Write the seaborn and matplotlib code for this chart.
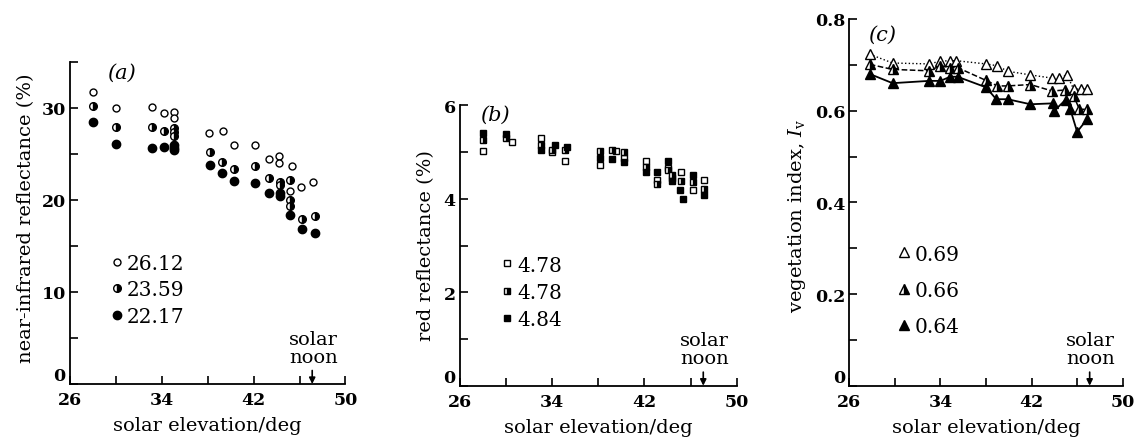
import matplotlib
matplotlib.use('Agg')
import matplotlib.pyplot as plt
import seaborn as sns
from matplotlib.lines import Line2D

sns.set_theme(style='ticks')
plt.rcParams['font.family'] = ['DejaVu Serif']
plt.rcParams['mathtext.fontset'] = 'dejavuserif'

# ---------------- data ----------------
# panel (a): near-infrared reflectance (%)
a_x_open = [28.0, 30.0, 33.1, 34.2, 35.1, 35.1, 38.1, 39.3, 40.3, 42.1, 43.3, 44.2, 44.2, 45.3, 45.2, 46.1, 47.2]
a_open = [31.7, 30.0, 30.1, 29.4, 29.6, 28.9, 27.3, 27.5, 26.0, 26.0, 24.5, 24.8, 24.0, 23.7, 21.0, 21.4, 22.0]
a_x_half = [28.0, 30.0, 33.1, 34.2, 35.1, 35.1, 35.1, 38.2, 39.2, 40.3, 42.1, 43.3, 44.3, 44.3, 45.2, 45.2, 45.2, 46.2, 47.3]
a_half = [30.2, 27.9, 27.9, 27.5, 27.8, 27.4, 27.0, 25.2, 24.1, 23.4, 23.7, 22.4, 22.0, 21.6, 22.2, 20.0, 19.4, 17.9, 18.3]
a_x_fill = [28.0, 30.0, 33.1, 34.2, 35.1, 35.1, 35.1, 38.2, 39.2, 40.3, 42.1, 43.3, 44.3, 44.3, 45.2, 46.2, 47.3]
a_fill = [28.5, 26.1, 25.7, 25.8, 26.0, 25.7, 25.4, 23.8, 22.9, 22.1, 21.8, 20.8, 20.8, 20.4, 18.4, 16.8, 16.4]
a_labels = ['26.12', '23.59', '22.17']

# panel (b): red reflectance (%)
b_x_open = [28.0, 30.5, 33.0, 34.0, 35.1, 38.1, 39.5, 40.25, 42.1, 43.1, 44.0, 44.4, 45.2, 46.2, 47.2]
b_open = [5.03, 5.22, 5.30, 5.00, 4.82, 4.73, 5.03, 4.88, 4.80, 4.40, 4.66, 4.45, 4.57, 4.20, 4.40]
b_x_half = [28.0, 30.0, 33.0, 34.0, 35.1, 38.1, 39.2, 40.25, 42.1, 43.1, 44.0, 44.4, 45.2, 46.2, 47.2]
b_half = [5.25, 5.30, 5.15, 5.05, 5.05, 5.03, 5.05, 5.00, 4.68, 4.32, 4.62, 4.50, 4.39, 4.35, 4.22]
b_x_fill = [28.0, 30.0, 33.0, 34.2, 35.3, 38.1, 39.2, 40.25, 42.1, 43.1, 44.0, 44.4, 45.1, 45.3, 46.2, 47.2]
b_fill = [5.40, 5.38, 5.05, 5.15, 5.10, 4.88, 4.85, 4.78, 4.58, 4.57, 4.80, 4.38, 4.18, 4.00, 4.50, 4.08]
b_labels = ['4.78', '4.78', '4.84']

# panel (c): vegetation index
c_x_open = [27.8, 29.8, 33.0, 34.0, 34.85, 35.4, 38.0, 39.0, 39.9, 41.9, 43.8, 44.4, 45.1, 45.7, 46.3, 46.9]
c_open = [0.723, 0.704, 0.702, 0.708, 0.709, 0.709, 0.702, 0.698, 0.686, 0.678, 0.671, 0.671, 0.678, 0.647, 0.647, 0.647]
c_x_half = [27.8, 29.8, 33.0, 34.0, 34.85, 35.5, 38.0, 39.0, 39.9, 41.9, 43.8, 44.9, 45.7, 46.2, 46.9]
c_half = [0.701, 0.690, 0.687, 0.698, 0.694, 0.694, 0.666, 0.654, 0.654, 0.657, 0.643, 0.645, 0.632, 0.603, 0.603]
c_x_fill = [27.8, 29.8, 33.0, 34.0, 34.85, 35.5, 38.0, 38.9, 39.9, 41.9, 43.9, 44.0, 45.0, 45.4, 46.0, 46.9]
c_fill = [0.680, 0.660, 0.665, 0.665, 0.674, 0.674, 0.651, 0.625, 0.625, 0.614, 0.616, 0.600, 0.624, 0.603, 0.554, 0.582]
c_labels = ['0.69', '0.66', '0.64']

x_major = [26, 34, 42, 50]
x_minor = [30, 38, 46]

# ---------------- figure ----------------
fig = plt.figure(figsize=(11.38, 4.39), dpi=100)
axA = fig.add_axes([70 / 1138, 54 / 439, 275.5 / 1138, 365 / 439])
axB = fig.add_axes([460 / 1138, 52.3 / 439, 276.7 / 1138, 366.7 / 439])
axC = fig.add_axes([849.3 / 1138, 52.3 / 439, 273.4 / 1138, 366.7 / 439])

TICK_FS = 12.5
LAB_FS = 14
LEG_FS = 14.5


def style(ax, spine_top, ylim_top, majors, major_labels, minors):
    ax.set_xlim(26, 50)
    ax.set_ylim(0, ylim_top)
    ax.spines['top'].set_visible(False)
    ax.spines['right'].set_visible(False)
    ax.spines['left'].set_bounds(0, spine_top)
    ax.spines['bottom'].set_bounds(26, 50)
    for s in ('left', 'bottom'):
        ax.spines[s].set_color('black')
        ax.spines[s].set_linewidth(1.3)
    ax.set_xticks(x_major)
    ax.set_xticklabels([str(v) for v in x_major])
    ax.set_xticks(x_minor, minor=True)
    ax.set_yticks(majors)
    ax.set_yticklabels(major_labels)
    ax.set_yticks(minors, minor=True)
    ax.tick_params(which='both', direction='in', length=6, width=1.2, color='black',
                   bottom=True, left=True, top=False, right=False)
    ax.tick_params(axis='x', which='major', labelsize=TICK_FS, pad=5, labelcolor='black')
    ax.tick_params(axis='y', which='major', labelsize=TICK_FS, pad=3, labelcolor='black')
    for lab in ax.get_xticklabels() + ax.get_yticklabels():
        lab.set_fontweight('bold')
    # the "0" on the y axis sits just above the corner, as in the reference
    ax.get_yticklabels()[0].set_verticalalignment('bottom')
    ax.set_xlabel('solar elevation/deg', fontsize=LAB_FS, color='black')
    ax.xaxis.set_label_coords(0.5, -0.087)
    # solar noon annotation
    ax.text(47.2, 0.05, 'solar\nnoon', transform=ax.get_xaxis_transform(),
            ha='center', va='bottom', fontsize=LAB_FS, linespacing=1.0, color='black')
    ax.annotate('', xy=(47.1, 0.0), xytext=(47.1, 0.037),
                xycoords=ax.get_xaxis_transform(), textcoords=ax.get_xaxis_transform(),
                arrowprops=dict(arrowstyle='-|>', color='black', lw=1.2,
                                mutation_scale=9, shrinkA=0, shrinkB=0))


def pts(ax, x, y, marker, ms, fill, ls='', lw=1.2):
    kw = dict(marker=marker, markersize=ms, markeredgecolor='black', markeredgewidth=1.0,
              color='black', linestyle=ls, linewidth=lw)
    if fill == 'open':
        kw.update(markerfacecolor='white')
    elif fill == 'half':
        kw.update(markerfacecolor='black', fillstyle='right', markerfacecoloralt='white')
    else:
        kw.update(markerfacecolor='black')
    sns.lineplot(x=x, y=y, ax=ax, estimator=None, sort=False, legend=False, **kw)
    h = dict(kw)
    h['linestyle'] = ''
    return Line2D([], [], **h)


def legend(ax, handles, labels, anchor, spacing):
    lg = ax.legend(handles, labels, loc='upper left', bbox_to_anchor=anchor, frameon=False,
                   fontsize=LEG_FS, handlelength=0.7, handletextpad=0.15, labelspacing=spacing,
                   borderpad=0, borderaxespad=0)
    for t in lg.get_texts():
        t.set_color('black')


# ---- (a) ----
hA = [pts(axA, a_x_open, a_open, 'o', 5.0, 'open'),
      pts(axA, a_x_half, a_half, 'o', 5.5, 'half'),
      pts(axA, a_x_fill, a_fill, 'o', 6.0, 'fill')]
style(axA, 35, 39.67, [0, 10, 20, 30], ['0', '10', '20', '30'], [5, 15, 25, 35])
axA.set_ylabel('near-infrared reflectance (%)', fontsize=LAB_FS, color='black')
axA.yaxis.set_label_coords(-0.125, 0.457)
axA.text(30.5, 33.9, '(a)', fontsize=15, style='italic', ha='center', va='center', color='black')
legend(axA, hA, a_labels, (0.145, 0.357), 0.375)

# ---- (b) ----
hB = [pts(axB, b_x_open, b_open, 's', 4.2, 'open'),
      pts(axB, b_x_half, b_half, 's', 4.2, 'half'),
      pts(axB, b_x_fill, b_fill, 's', 4.2, 'fill')]
style(axB, 6, 7.85, [0, 2, 4, 6], ['0', '2', '4', '6'], [1, 3, 5])
axB.set_ylabel('red reflectance (%)', fontsize=LAB_FS, color='black')
axB.yaxis.set_label_coords(-0.09, 0.385)
axB.text(29.0, 5.82, '(b)', fontsize=15, style='italic', ha='center', va='center', color='black')
legend(axB, hB, b_labels, (0.145, 0.355), 0.4)

# ---- (c) ----
hC = [pts(axC, c_x_open, c_open, '^', 6.5, 'open', ls=':', lw=1.0),
      pts(axC, c_x_half, c_half, '^', 6.5, 'half', ls='--', lw=1.1),
      pts(axC, c_x_fill, c_fill, '^', 6.5, 'fill', ls='-', lw=1.3)]
style(axC, 0.8, 0.80, [0, 0.2, 0.4, 0.6, 0.8], ['0', '0.2', '0.4', '0.6', '0.8'],
      [0.1, 0.3, 0.5, 0.7])
axC.set_ylabel(r'vegetation index, $I_{\rm v}$', fontsize=LAB_FS, color='black')
axC.yaxis.set_label_coords(-0.15, 0.465)
axC.text(28.85, 0.767, '(c)', fontsize=15, style='italic', ha='center', va='center', color='black')
legend(axC, hC, c_labels, (0.175, 0.385), 0.85)

fig.savefig('out.png', dpi=100, facecolor='white')
